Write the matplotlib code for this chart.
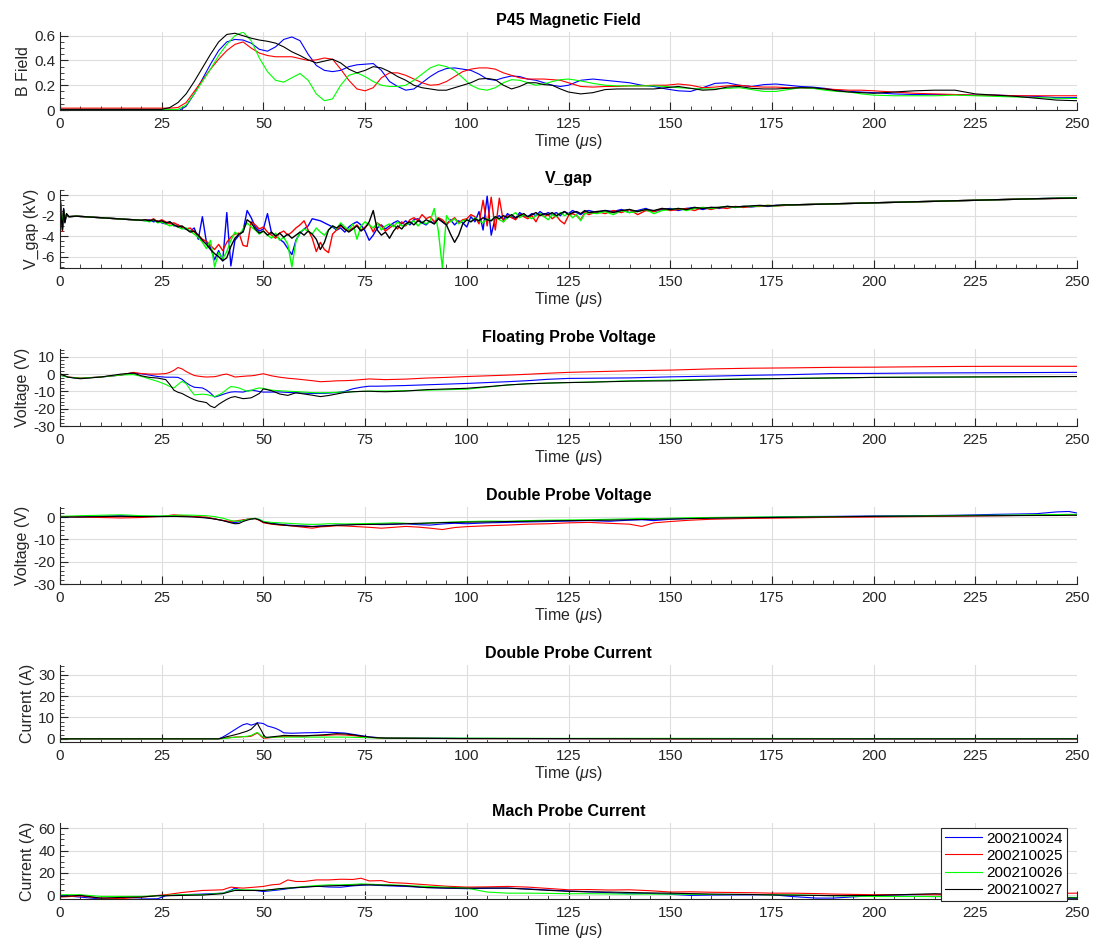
import numpy as np
import matplotlib
matplotlib.use("Agg")
import matplotlib.pyplot as plt
from matplotlib.ticker import MultipleLocator, FormatStrFormatter, FixedLocator

plt.rcParams["font.family"] = ["Liberation Sans", "DejaVu Sans"]
plt.rcParams["axes.unicode_minus"] = False
plt.rcParams["mathtext.fontset"] = "custom"
plt.rcParams["mathtext.rm"] = "Liberation Sans"
plt.rcParams["mathtext.it"] = "Liberation Sans:italic"

shots = ["200210024", "200210025", "200210026", "200210027"]
shot_colors = ["#0000ff", "#ff0000", "#00ff00", "#000000"]

# ---------------- P45 magnetic field ----------------
b_t = [0, 25, 27, 29, 31, 33, 35, 37, 39, 41, 43, 45, 47, 49, 51, 53, 55, 57, 59, 61, 63, 65,
       67, 69, 71, 73, 75, 77, 79, 81, 83, 85, 87, 89, 91, 93, 95, 97, 99, 101, 103, 105, 107,
       109, 111, 113, 115, 117, 119, 121, 123, 125, 128, 131, 134, 137, 140, 143, 146, 149,
       152, 155, 158, 161, 164, 167, 170, 173, 176, 179, 182, 185, 188, 191, 194, 197, 200,
       205, 210, 215, 220, 225, 230, 235, 240, 245, 250]
b_024 = [0.0, 0.0, 0.0, -0.01, 0.03, 0.13, 0.25, 0.37, 0.48, 0.55, 0.57, 0.565, 0.54, 0.49,
         0.475, 0.51, 0.57, 0.59, 0.56, 0.45, 0.36, 0.32, 0.31, 0.32, 0.35, 0.365, 0.37, 0.375,
         0.32, 0.23, 0.19, 0.16, 0.17, 0.22, 0.27, 0.31, 0.335, 0.34, 0.33, 0.32, 0.29, 0.25,
         0.24, 0.26, 0.275, 0.27, 0.25, 0.24, 0.22, 0.2, 0.19, 0.2, 0.24, 0.25, 0.24, 0.23, 0.22,
         0.2, 0.19, 0.17, 0.155, 0.15, 0.18, 0.215, 0.22, 0.2, 0.19, 0.205, 0.21, 0.2, 0.19,
         0.185, 0.175, 0.16, 0.15, 0.145, 0.14, 0.13, 0.125, 0.125, 0.125, 0.12, 0.12, 0.115,
         0.11, 0.1, 0.1]
b_025 = [0.015, 0.015, 0.015, 0.02, 0.06, 0.15, 0.24, 0.33, 0.41, 0.48, 0.53, 0.55, 0.5, 0.46,
         0.44, 0.43, 0.43, 0.43, 0.415, 0.4, 0.405, 0.42, 0.41, 0.33, 0.24, 0.17, 0.155, 0.18,
         0.26, 0.3, 0.3, 0.28, 0.25, 0.22, 0.2, 0.205, 0.23, 0.27, 0.31, 0.33, 0.34, 0.34, 0.33,
         0.3, 0.28, 0.26, 0.25, 0.25, 0.25, 0.245, 0.24, 0.22, 0.19, 0.185, 0.19, 0.19, 0.195,
         0.195, 0.2, 0.2, 0.21, 0.2, 0.18, 0.185, 0.195, 0.2, 0.19, 0.185, 0.185, 0.18, 0.18,
         0.175, 0.17, 0.165, 0.16, 0.16, 0.155, 0.145, 0.135, 0.13, 0.125, 0.12, 0.12, 0.115,
         0.115, 0.115, 0.115]
b_026 = [0.003, 0.003, 0.003, 0.005, 0.04, 0.13, 0.23, 0.33, 0.44, 0.53, 0.6, 0.63, 0.56, 0.42,
         0.31, 0.24, 0.225, 0.26, 0.295, 0.24, 0.13, 0.075, 0.09, 0.2, 0.28, 0.3, 0.27, 0.23,
         0.2, 0.19, 0.19, 0.2, 0.24, 0.29, 0.34, 0.365, 0.35, 0.32, 0.26, 0.2, 0.17, 0.16, 0.18,
         0.22, 0.245, 0.24, 0.22, 0.2, 0.21, 0.23, 0.245, 0.25, 0.235, 0.215, 0.2, 0.195, 0.195,
         0.195, 0.195, 0.19, 0.18, 0.175, 0.17, 0.17, 0.175, 0.18, 0.165, 0.15, 0.15, 0.165,
         0.18, 0.175, 0.16, 0.15, 0.145, 0.13, 0.12, 0.115, 0.115, 0.115, 0.12, 0.115, 0.11,
         0.105, 0.1, 0.095, 0.093]
b_027 = [0.005, 0.005, 0.02, 0.06, 0.13, 0.23, 0.34, 0.45, 0.55, 0.61, 0.62, 0.6, 0.58, 0.565,
         0.555, 0.54, 0.51, 0.47, 0.44, 0.405, 0.38, 0.395, 0.41, 0.38, 0.33, 0.3, 0.32, 0.35,
         0.34, 0.31, 0.27, 0.24, 0.2, 0.18, 0.17, 0.16, 0.16, 0.18, 0.2, 0.22, 0.25, 0.255, 0.245,
         0.2, 0.17, 0.19, 0.22, 0.22, 0.205, 0.2, 0.17, 0.145, 0.13, 0.14, 0.165, 0.17, 0.17,
         0.17, 0.17, 0.18, 0.19, 0.175, 0.16, 0.165, 0.185, 0.19, 0.175, 0.17, 0.17, 0.175, 0.18,
         0.18, 0.17, 0.155, 0.145, 0.14, 0.135, 0.145, 0.155, 0.16, 0.16, 0.13, 0.12, 0.11,
         0.095, 0.08, 0.075]

# ---------------- gap voltage (kV) ----------------
vgap_t = ([0, 0.3, 0.6, 0.9, 1.2, 1.6, 2.2, 4, 8, 12, 16, 20] + list(range(21, 131))
          + list(range(132, 181, 2)) + list(range(190, 251, 10)))
vgap_024 = [-0.3, -1.5, -3.2, -1.4, -2.6, -1.9, -2.1, -2.05, -2.15, -2.25, -2.35, -2.45,
            -2.5, -2.4, -2.6, -2.5, -2.7, -2.8, -2.6, -3.0, -2.9, -3.2,
            -3.3, -3.5, -3.2, -4.3, -2.1, -4.6, -5.1, -6.3, -5.4, -6.4,
            -1.7, -6.9, -4.4, -3.9, -3.5, -1.5, -2.2, -3.1, -3.5, -3.3,
            -1.8, -3.7, -3.9, -4.3, -4.6, -5.2, -5.8, -4.4, -3.7, -3.3,
            -3.0, -2.3, -2.4, -2.5, -2.7, -2.9, -3.1, -3.4, -3.2, -3.6,
            -3.1, -2.8, -2.6, -2.9, -3.5, -4.4, -3.9, -3.2, -2.9, -3.3,
            -3.0, -2.7, -2.5, -2.8, -2.5, -2.9, -2.4, -2.3, -2.7, -2.9,
            -2.5, -2.8, -2.3, -2.6, -2.9, -2.4, -2.9, -2.5, -2.7, -3.1,
            -2.1, -2.6, -1.6, -3.4, -0.1, -3.9, -2.2, -2.0, -2.4, -1.8,
            -2.1, -2.3, -1.7, -2.0, -2.1, -1.8, -2.0, -1.6, -1.9, -1.7,
            -1.9, -1.7, -2.0, -1.6, -1.8, -1.5, -1.7, -1.9, -1.6, -1.5,
            -1.7, -1.5, -1.6, -1.4, -1.7, -1.5, -1.3, -1.6, -1.4, -1.3, -1.5, -1.3, -1.2,
            -1.4, -1.2, -1.3, -1.1, -1.2, -1.1, -1.15, -1.05, -1.1, -1.0, -1.0, -0.95,
            -0.85, -0.75, -0.65, -0.55, -0.45, -0.35, -0.25]
vgap_025 = [-0.2, -1.2, -3.5, -1.6, -2.5, -1.9, -2.1, -2.05, -2.15, -2.25, -2.35, -2.45,
            -2.4, -2.5, -2.3, -2.6, -2.4, -2.6, -2.8, -2.7, -2.9, -3.1,
            -3.3, -3.2, -3.6, -3.9, -4.3, -4.5, -4.9, -5.3, -4.8, -5.4,
            -4.6, -4.1, -3.8, -3.7, -4.9, -5.0, -2.6, -2.9, -3.3, -3.1,
            -3.6, -3.9, -4.2, -3.7, -3.5, -3.9, -3.6, -3.2, -2.9, -2.5,
            -3.4, -4.2, -5.5, -4.6, -5.3, -5.6, -3.8, -3.4, -3.0, -3.3,
            -3.5, -3.2, -2.9, -3.4, -3.1, -2.8, -3.6, -2.7, -3.0, -3.5,
            -3.2, -2.9, -3.3, -2.6, -3.0, -2.4, -2.2, -2.5, -1.9, -2.3,
            -2.1, -2.6, -2.2, -2.4, -2.8, -2.5, -2.2, -2.7, -2.4, -2.3,
            -1.9, -2.1, -2.8, -0.5, -3.0, -0.2, -3.4, -0.3, -2.6, -2.0,
            -2.2, -2.4, -1.9, -2.1, -2.3, -2.0, -2.6, -1.8, -2.1, -1.9,
            -2.3, -2.0, -2.5, -2.8, -2.0, -1.8, -2.0, -2.4, -1.7, -1.9,
            -1.6, -1.8, -1.5, -1.7, -1.4, -1.9, -1.5, -1.6, -1.3, -1.5, -1.4, -1.3, -1.5,
            -1.2, -1.4, -1.2, -1.3, -1.1, -1.2, -1.1, -1.1, -1.0, -1.05, -1.0, -0.95,
            -0.85, -0.75, -0.65, -0.55, -0.45, -0.35, -0.3]
vgap_026 = [-0.4, -1.8, -3.0, -1.5, -2.4, -1.9, -2.1, -2.05, -2.15, -2.25, -2.35, -2.45,
            -2.5, -2.6, -2.4, -2.7, -2.6, -2.8, -3.0, -2.9, -3.1, -3.3,
            -3.2, -3.5, -3.8, -4.1, -4.6, -5.2, -4.4, -7.0, -5.6, -6.2,
            -5.5, -4.4, -3.6, -3.9, -3.3, -2.7, -3.1, -3.4, -3.8, -3.5,
            -3.9, -4.2, -3.7, -4.4, -4.1, -4.8, -7.0, -4.5, -3.6, -3.3,
            -3.5, -3.8, -3.2, -3.6, -3.9, -3.4, -3.0, -3.3, -2.7, -3.1,
            -3.4, -2.8, -4.3, -3.0, -2.6, -2.9, -3.2, -2.7, -3.4, -3.0,
            -2.8, -3.1, -2.6, -3.0, -2.9, -2.7, -2.5, -3.0, -2.6, -2.8,
            -2.5, -1.3, -3.5, -7.1, -2.0, -2.6, -2.3, -2.8, -2.5, -2.4,
            -2.6, -2.2, -2.5, -2.7, -2.3, -2.5, -2.1, -2.4, -2.6, -2.2,
            -2.0, -1.7, -2.2, -1.9, -2.1, -2.3, -2.0, -1.8, -2.1, -2.4,
            -1.9, -2.1, -1.7, -2.0, -1.8, -2.2, -1.9, -2.5, -1.8, -1.7,
            -1.8, -1.6, -1.9, -1.5, -1.7, -1.6, -1.4, -1.8, -1.5, -1.4, -1.3, -1.5, -1.3,
            -1.2, -1.3, -1.2, -1.1, -1.2, -1.1, -1.1, -1.05, -1.0, -1.05, -0.95, -0.95,
            -0.85, -0.75, -0.65, -0.55, -0.45, -0.35, -0.25]
vgap_027 = [-0.1, -2.2, -3.4, -1.3, -2.7, -1.8, -2.1, -2.05, -2.15, -2.25, -2.35, -2.45,
            -2.4, -2.5, -2.4, -2.6, -2.5, -2.7, -2.6, -2.9, -3.1, -3.0,
            -3.3, -3.6, -3.5, -3.9, -4.4, -4.8, -5.3, -5.7, -6.0, -6.4,
            -6.1, -5.0, -4.2, -3.8, -3.6, -2.4, -2.7, -3.3, -3.7, -3.5,
            -3.9, -3.6, -4.0, -3.7, -4.1, -3.8, -4.2, -3.9, -3.6, -3.9,
            -3.5, -3.8, -4.3, -5.3, -4.6, -3.4, -3.0, -3.2, -2.9, -3.3,
            -3.6, -3.3, -3.0, -3.5, -3.2, -2.6, -1.5, -3.4, -3.9, -3.6,
            -4.2, -3.5, -3.0, -3.3, -2.8, -2.6, -2.9, -2.5, -2.7, -2.4,
            -2.6, -2.8, -2.3, -2.6, -2.9, -3.8, -4.6, -3.9, -2.8, -2.4,
            -2.6, -2.3, -2.5, -2.2, -2.4, -2.5, -2.1, -2.3, -2.0, -2.2,
            -1.9, -2.2, -2.0, -1.8, -2.1, -1.9, -1.7, -2.0, -1.8, -1.9,
            -1.7, -2.0, -1.8, -1.6, -1.9, -1.7, -1.6, -1.8, -1.5, -1.7,
            -1.6, -1.5, -1.7, -1.5, -1.4, -1.6, -1.4, -1.5, -1.3, -1.4, -1.3, -1.4, -1.2,
            -1.3, -1.2, -1.2, -1.1, -1.15, -1.1, -1.05, -1.0, -1.05, -1.0, -0.95, -0.95,
            -0.85, -0.75, -0.65, -0.55, -0.45, -0.35, -0.28]

# ---------------- floating probe voltage (V) ----------------
fp_t = [0, 2, 5, 10, 15, 18, 20, 22, 24, 26, 27, 28, 29, 30, 31, 32, 33, 34, 35, 36, 37, 38,
        39, 40, 41, 42, 43, 44, 45, 46, 47, 48, 49, 50, 52, 54, 56, 58, 60, 62, 64, 66, 68, 70,
        72, 74, 76, 78, 80, 85, 90, 95, 100, 105, 110, 115, 120, 125, 130, 140, 150, 160, 170,
        180, 190, 200, 210, 220, 230, 240, 250]
fp_024 = [-0.5, -1.8, -2.4, -1.7, -0.6, 0.6, 0.2, -0.6, -1.4, -1.8, -1.8, -1.8, -1.9, -3.0,
          -5.0, -6.5, -7.6, -7.8, -8.0, -9.2, -11.0, -13.3, -12.6, -11.8, -11.0, -10.4, -10.2,
          -10.3, -10.4, -9.8, -9.3, -9.6, -10.1, -10.4, -10.4, -10.3, -10.6, -10.8, -11.0,
          -11.2, -11.2, -11.0, -10.7, -10.0, -8.5, -7.6, -7.0, -7.0, -6.9, -6.6, -6.2, -5.8,
          -5.4, -4.9, -4.4, -3.8, -3.0, -2.5, -2.4, -2.2, -1.6, -1.2, -0.7, -0.3, 0.3, 0.4, 0.6,
          0.7, 0.8, 0.9, 1.0]
fp_025 = [-0.4, -1.7, -2.3, -1.7, -0.5, 1.0, 0.3, 0.0, 0.0, 0.3, 1.0, 2.2, 3.8, 3.0, 1.5, 0.3,
          -0.8, -1.2, -1.5, -1.7, -1.6, -1.5, -1.0, -0.3, 0.0, -0.8, -1.7, -1.5, -1.3, -1.1,
          -1.0, -0.7, -0.2, 0.2, -1.0, -1.8, -2.4, -2.8, -3.3, -3.8, -4.4, -4.2, -3.9, -3.8,
          -3.6, -3.2, -2.8, -3.0, -3.2, -2.9, -2.3, -1.9, -1.4, -1.0, -0.6, -0.1, 0.5, 1.0, 1.3,
          1.9, 2.3, 3.0, 3.4, 3.6, 3.9, 4.0, 4.2, 4.4, 4.5, 4.5, 4.5]
fp_026 = [-0.8, -1.8, -2.4, -1.7, -0.5, -0.3, -1.3, -2.8, -4.2, -6.0, -7.2, -8.0, -6.0, -4.2,
          -5.5, -9.0, -12.0, -11.8, -11.6, -11.8, -12.4, -13.0, -12.0, -10.8, -8.8, -7.2, -7.5,
          -8.0, -9.0, -9.9, -9.5, -8.5, -8.0, -8.3, -9.3, -9.6, -9.9, -10.1, -10.4, -10.7,
          -10.8, -10.7, -10.5, -10.4, -10.2, -10.0, -9.9, -9.8, -9.8, -9.6, -9.3, -9.0, -8.7,
          -7.5, -6.3, -5.6, -5.2, -4.9, -4.6, -3.9, -3.5, -3.1, -2.8, -2.5, -2.3, -1.9, -1.8,
          -1.7, -1.6, -1.5, -1.4]
fp_027 = [0.2, -1.8, -2.7, -1.7, 0.0, 0.6, -1.0, -1.9, -2.3, -3.2, -6.0, -9.3, -10.5, -11.2,
          -12.5, -13.7, -14.8, -15.6, -16.0, -16.5, -18.5, -19.4, -17.5, -16.0, -14.6, -13.5,
          -13.0, -13.6, -14.2, -14.0, -13.7, -12.5, -11.2, -8.5, -9.6, -11.5, -12.3, -10.8,
          -11.5, -12.2, -13.0, -12.4, -11.5, -10.6, -10.2, -10.0, -9.9, -10.1, -10.2, -9.8,
          -9.0, -8.6, -8.2, -7.3, -6.3, -5.6, -5.2, -4.9, -4.7, -4.1, -3.9, -3.3, -2.8, -2.5,
          -2.2, -1.9, -1.8, -1.7, -1.6, -1.5, -1.4]

# ---------------- double probe voltage (V) ----------------
dv_t = [0, 5, 10, 15, 20, 25, 28, 30, 33, 36, 38, 40, 42, 43, 44, 45, 46, 47, 48, 49, 50, 52,
        54, 56, 58, 60, 62, 64, 66, 68, 70, 73, 76, 79, 82, 85, 88, 91, 94, 97, 100, 105, 110,
        115, 120, 125, 130, 135, 140, 143, 146, 150, 155, 160, 170, 180, 190, 200, 210, 220,
        230, 240, 245, 248, 250]
dv_024 = [0.0, 0.2, 0.4, 0.6, 0.3, 0.3, 0.5, 0.5, 0.2, -0.3, -0.8, -1.5, -2.3, -2.5, -2.2,
          -1.3, -1.0, -0.8, -0.6, -1.2, -2.2, -2.8, -3.2, -3.6, -3.8, -4.0, -4.2, -4.0, -3.8,
          -3.6, -3.5, -3.3, -3.2, -3.4, -3.3, -3.0, -3.4, -3.6, -3.1, -2.8, -3.0, -2.6, -2.4,
          -2.2, -2.0, -1.8, -1.6, -1.9, -1.4, -1.2, -1.6, -1.0, -0.6, -0.4, -0.2, 0.2, 0.3, 0.5,
          0.6, 0.8, 1.2, 1.5, 2.3, 2.5, 1.8]
dv_025 = [0.3, 0.0, -0.2, -0.4, -0.2, 0.3, 1.0, 0.7, 0.2, 0.0, -0.8, -1.5, -2.0, -1.8, -1.5,
          -1.3, -1.0, -0.8, -0.7, -1.5, -2.6, -3.2, -3.6, -3.8, -4.2, -4.6, -5.0, -4.4, -4.2,
          -3.9, -4.0, -4.3, -4.6, -5.0, -4.6, -4.2, -4.5, -5.0, -5.6, -4.7, -4.3, -3.9, -3.6,
          -3.2, -3.0, -2.6, -2.4, -2.8, -3.2, -4.2, -2.6, -2.0, -1.4, -1.0, -0.6, -0.4, -0.1,
          0.0, 0.2, 0.4, 0.6, 0.8, 1.0, 0.9, 1.0]
dv_026 = [0.3, 0.6, 0.8, 1.0, 0.6, 0.5, 0.7, 0.9, 0.8, 0.6, 0.2, -0.5, -1.6, -1.9, -1.8, -1.5,
          -1.1, -0.8, -0.6, -1.0, -2.0, -2.4, -2.6, -2.8, -3.0, -3.2, -3.3, -3.2, -3.0, -3.0,
          -3.1, -3.0, -2.9, -2.8, -2.6, -2.8, -3.0, -2.6, -2.4, -2.2, -2.0, -1.8, -1.9, -1.6,
          -1.4, -1.3, -1.2, -1.0, -0.8, -0.6, -0.8, -0.5, -0.3, -0.2, 0.0, 0.1, 0.2, 0.3, 0.5,
          0.7, 0.8, 1.0, 1.1, 1.2, 1.2]
dv_027 = [0.0, 0.0, 0.2, 0.3, 0.2, 0.2, 0.3, 0.2, 0.0, -0.4, -0.9, -1.6, -2.6, -3.0, -2.9,
          -2.0, -1.4, -0.9, -0.7, -1.3, -2.3, -3.0, -3.4, -3.8, -4.0, -4.1, -4.3, -4.1, -3.9,
          -3.7, -3.6, -3.4, -3.3, -3.2, -3.1, -3.0, -2.8, -2.7, -2.5, -2.4, -2.3, -2.2, -2.0,
          -1.9, -1.7, -1.6, -1.5, -1.4, -1.2, -1.1, -1.0, -0.9, -0.7, -0.5, -0.3, -0.1, 0.1, 0.3,
          0.4, 0.5, 0.6, 0.7, 0.7, 0.8, 0.8]

# ---------------- double probe current (A) ----------------
dc_t = [0, 39, 40, 41, 42, 43, 44, 45, 46, 47, 48, 48.5, 49, 49.5, 50, 50.5, 51, 52, 53, 54,
        55, 57, 60, 63, 65, 68, 70, 72, 74, 76, 78, 80, 90, 100, 120, 150, 200, 250]
dc_024 = [0.0, 0.0, 0.8, 1.9, 3.1, 4.3, 5.5, 6.6, 7.1, 6.4, 7.0, 7.5, 7.4, 7.3, 7.1, 6.6, 6.0,
          5.5, 4.9, 4.0, 2.8, 2.6, 2.8, 2.9, 3.1, 2.9, 2.7, 2.1, 1.5, 0.9, 0.6, 0.4, 0.3, 0.2,
          0.1, 0.1, 0.0, 0.0]
dc_025 = [0.0, 0.0, 0.2, 0.4, 0.6, 0.8, 0.9, 1.0, 1.0, 1.2, 2.2, 2.7, 2.0, 1.0, 0.4, 0.3, 0.4,
          0.6, 0.8, 1.0, 1.1, 1.2, 1.3, 1.5, 1.6, 1.9, 1.8, 1.5, 1.1, 0.7, 0.4, 0.3, 0.2, 0.1,
          0.1, 0.0, 0.0, 0.0]
dc_026 = [0.0, 0.0, 0.1, 0.3, 0.5, 0.7, 0.8, 1.0, 1.2, 1.6, 2.6, 3.0, 2.2, 1.4, 0.8, 0.6, 0.6,
          0.7, 0.8, 0.8, 0.8, 0.8, 0.8, 0.8, 0.8, 0.8, 0.8, 0.7, 0.6, 0.5, 0.4, 0.3, 0.3, 0.3,
          0.2, 0.2, 0.1, 0.1]
dc_027 = [0.0, 0.0, 0.4, 1.0, 1.4, 1.9, 2.4, 3.0, 3.6, 4.5, 6.4, 7.4, 5.5, 3.9, 2.0, 0.8, 0.7,
          0.9, 1.1, 1.3, 1.6, 1.5, 1.4, 1.7, 1.9, 2.4, 2.3, 1.9, 1.3, 0.8, 0.5, 0.3, 0.2, 0.1,
          0.1, 0.0, 0.0, 0.0]

# ---------------- Mach probe current (A) ----------------
mc_t = [0, 5, 10, 15, 20, 24, 26, 30, 35, 40, 42, 43, 45, 48, 50, 52, 54, 56, 58, 60, 63, 66,
        69, 72, 74, 76, 79, 81, 85, 90, 95, 100, 105, 110, 115, 120, 125, 130, 135, 140, 145,
        150, 155, 160, 170, 175, 180, 186, 190, 200, 210, 215, 220, 225, 230, 240, 245, 250]
mc_024 = [0.0, -1.5, -3.2, -3.8, -3.2, -3.0, -0.3, 0.6, 1.2, 2.0, 4.5, 6.5, 4.4, 4.4, 3.5, 4.2,
          5.0, 6.0, 6.8, 7.4, 8.2, 7.5, 7.3, 8.5, 9.0, 9.4, 8.8, 8.5, 8.0, 7.0, 6.4, 6.0, 6.3,
          6.5, 5.8, 4.8, 4.0, 3.2, 2.4, 1.5, 1.8, 1.0, 0.0, 0.3, 0.5, 0.6, -1.0, -2.4, -2.4,
          -0.2, -0.8, -1.0, -0.8, -1.2, -1.5, -2.0, -2.4, -2.4]
mc_025 = [-1.5, -0.5, -2.4, -2.9, -1.5, 0.0, 0.6, 2.6, 4.4, 5.0, 7.4, 7.0, 6.5, 7.4, 8.0, 9.4,
          10.0, 13.8, 12.4, 12.4, 13.8, 13.8, 14.4, 14.2, 15.3, 12.9, 13.2, 11.5, 10.8, 9.5,
          8.2, 7.4, 7.6, 8.0, 7.4, 6.2, 5.0, 5.2, 4.8, 5.0, 4.2, 3.0, 3.2, 2.8, 2.4, 2.0, 2.0,
          1.6, 1.2, 0.6, 0.8, 0.6, 0.6, 0.8, 1.2, 1.6, 1.8, 2.0]
mc_026 = [0.6, 0.6, -0.9, -0.9, -0.9, -0.3, 0.0, 0.6, 0.6, 2.0, 4.0, 5.0, 5.0, 4.8, 4.4, 5.0,
          5.8, 6.5, 7.2, 7.9, 8.8, 9.4, 9.4, 9.8, 10.3, 10.0, 9.5, 9.5, 8.8, 8.0, 7.3, 6.5, 3.0,
          2.0, 2.0, 1.8, 1.5, 1.5, 1.3, 1.2, 1.2, 1.2, 1.0, 0.8, 0.8, 0.6, 0.5, 0.0, -0.3,
          -1.0, -1.0, -1.0, -1.2, -1.5, -1.5, -1.6, -1.8, -1.8]
mc_027 = [-0.9, 0.0, -2.4, -1.8, -1.5, -0.3, -0.3, 0.0, 0.3, 1.5, 3.5, 4.4, 4.4, 4.4, 4.4, 5.2,
          6.0, 6.5, 7.0, 7.4, 8.0, 8.5, 8.8, 9.0, 9.4, 9.4, 9.2, 9.0, 8.5, 7.0, 6.6, 6.5, 6.6,
          6.5, 5.5, 4.5, 3.6, 3.2, 3.0, 2.6, 2.2, 2.0, 1.6, 1.2, 0.8, 0.4, 0.2, 0.0, -0.2, 0.0,
          1.0, 1.5, 1.0, 0.0, -1.0, -1.6, -2.0, -2.4]

panels = [
    dict(title="P45 Magnetic Field", ylabel="B Field", t=b_t,
         ys=[b_024, b_025, b_026, b_027], ylim=(0, 0.63),
         yticks=[0, 0.2, 0.4, 0.6], yminor=0.05, lw=0.8),
    dict(title="V_gap", ylabel="V_gap (kV)", t=vgap_t,
         ys=[vgap_024, vgap_025, vgap_026, vgap_027], ylim=(-7.1, 0.5),
         yticks=[-6, -4, -2, 0], yminor=0.5, lw=1.0),
    dict(title="Floating Probe Voltage", ylabel="Voltage (V)", t=fp_t,
         ys=[fp_024, fp_025, fp_026, fp_027], ylim=(-30, 14.5),
         yticks=[-30, -20, -10, 0, 10], yminor=2, lw=0.8),
    dict(title="Double Probe Voltage", ylabel="Voltage (V)", t=dv_t,
         ys=[dv_024, dv_025, dv_026, dv_027], ylim=(-30, 4.5),
         yticks=[-30, -20, -10, 0], yminor=2, lw=0.8),
    dict(title="Double Probe Current", ylabel="Current (A)", t=dc_t,
         ys=[dc_024, dc_025, dc_026, dc_027], ylim=(-1.5, 34.6),
         yticks=[0, 10, 20, 30], yminor=2, lw=0.8),
    dict(title="Mach Probe Current", ylabel="Current (A)", t=mc_t,
         ys=[mc_024, mc_025, mc_026, mc_027], ylim=(-3.2, 64.5),
         yticks=[0, 20, 40, 60], yminor=5, lw=0.8),
]

# axes boxes in pixels (top, bottom) on a 1094 x 951 canvas
W, H = 1094, 951
boxes = [(32, 110), (190, 268), (349, 426), (507, 584), (665, 742), (823, 899)]
x_left, x_right = 60, 1077

axis_col = "#262626"
fig = plt.figure(figsize=(W / 100, H / 100), dpi=100)
fig.patch.set_facecolor("white")

axes = []
for p, (top, bot) in zip(panels, boxes):
    ax = fig.add_axes([x_left / W, 1 - bot / H, (x_right - x_left) / W, (bot - top) / H])
    for y, c, lab in zip(p["ys"], shot_colors, shots):
        ax.plot(p["t"], y, color=c, lw=p["lw"], label=lab)
    ax.set_xlim(0, 250)
    ax.set_ylim(*p["ylim"])
    ax.xaxis.set_major_locator(MultipleLocator(25))
    ax.xaxis.set_minor_locator(MultipleLocator(5))
    ax.yaxis.set_major_locator(FixedLocator(p["yticks"]))
    ax.yaxis.set_minor_locator(MultipleLocator(p["yminor"]))
    ax.yaxis.set_major_formatter(FormatStrFormatter("%g"))
    ax.grid(True, which="major", color="#dedede", lw=0.8)
    ax.set_axisbelow(True)
    for s in ("top", "right"):
        ax.spines[s].set_visible(False)
    for s in ("left", "bottom"):
        ax.spines[s].set_color(axis_col)
        ax.spines[s].set_linewidth(0.8)
    ax.tick_params(which="both", direction="in", colors=axis_col, labelsize=11,
                   top=False, right=False)
    ax.tick_params(which="major", length=6, width=0.8)
    ax.tick_params(which="minor", length=3, width=0.6)
    ax.tick_params(axis="x", which="major", pad=5)
    ax.set_title(p["title"], fontsize=11.5, fontweight="bold", color="#000000", pad=5)
    ax.set_xlabel(r"Time ($\mu$s)", fontsize=11.5, color=axis_col, labelpad=1)
    ax.set_ylabel(p["ylabel"], fontsize=11.5, color=axis_col, labelpad=2)
    axes.append(ax)

leg = axes[-1].legend(loc="upper right", bbox_to_anchor=(0.99, 0.935), fontsize=11,
                      frameon=True, fancybox=False, framealpha=1, edgecolor="#262626",
                      handlelength=2.4, handletextpad=0.3, labelspacing=0.2,
                      borderpad=0.25, borderaxespad=0)
leg.get_frame().set_linewidth(0.8)
leg.set_zorder(10)

fig.savefig("out.png", dpi=100)
